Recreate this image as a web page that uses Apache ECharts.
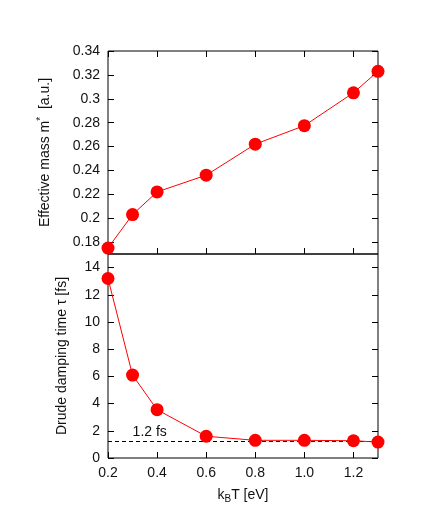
<!DOCTYPE html>
<html>
<head>
<meta charset="utf-8">
<script src="https://cdn.jsdelivr.net/npm/echarts@6/dist/echarts.min.js"></script>
<style>
  html, body { margin: 0; padding: 0; background: #fff; }
  #chart { width: 436px; height: 509px; }
</style>
</head>
<body>
<div id="chart"></div>
<script>
// k_B T values (eV)
const temps = [0.2, 0.3, 0.4, 0.6, 0.8, 1.0, 1.2, 1.3]
// Effective mass m* (a.u.)
const mass = [0.175, 0.203, 0.222, 0.236, 0.262, 0.2775, 0.305, 0.323]
// Drude damping time tau (fs)
const tau = [13.2, 6.1, 3.55, 1.6, 1.3, 1.3, 1.27, 1.17]

// tick positions
const xTicks = [0.2, 0.4, 0.6, 0.8, 1.0, 1.2]
const massTicks = [0.18, 0.2, 0.22, 0.24, 0.26, 0.28, 0.3, 0.32, 0.34]
const tauTicks = [0, 2, 4, 6, 8, 10, 12, 14]

// reference line
const tauRef = 1.2
const tauRefLabel = '1.2 fs'
const tauRefLabelX = 0.37

const FONT = 'Liberation Sans, Arial, sans-serif'
const RED = '#ff0000'

const chart = echarts.init(document.getElementById('chart'))

const tickStyle = (values, show = true) => ({
  show,
  inside: true,
  length: 6,
  customValues: values,
  lineStyle: { color: '#000', width: 1 }
})

const noLabel = { show: false }

const baseX = {
  type: 'value',
  min: 0.2,
  max: 1.3,
  axisLine: { show: false },
  splitLine: { show: false }
}

chart.setOption({
  animation: false,
  textStyle: { fontFamily: FONT },
  grid: [
    { left: 108, right: 58, top: 51, height: 203, show: true, borderColor: '#000', borderWidth: 1 },
    { left: 108, right: 58, top: 254, height: 204, show: true, borderColor: '#000', borderWidth: 1 }
  ],
  xAxis: [
    { ...baseX, gridIndex: 0, position: 'bottom', axisTick: tickStyle(xTicks), axisLabel: noLabel },
    { ...baseX, gridIndex: 0, position: 'top', axisTick: tickStyle(xTicks), axisLabel: noLabel },
    {
      ...baseX,
      gridIndex: 1,
      position: 'bottom',
      axisTick: tickStyle(xTicks),
      axisLabel: {
        customValues: xTicks,
        formatter: v => v.toFixed(1),
        color: '#111',
        fontSize: 14,
        margin: 8,
        fontFamily: FONT
      },
      name: 'k{sub|B}T [eV]',
      nameLocation: 'middle',
      nameGap: 28,
      nameTextStyle: {
        color: '#111',
        fontSize: 14,
        fontFamily: FONT,
        rich: { sub: { fontSize: 10, verticalAlign: 'bottom', padding: [8, 0, 0, 0], color: '#111', fontFamily: FONT } }
      }
    },
    { ...baseX, gridIndex: 1, position: 'top', axisTick: { show: false }, axisLabel: noLabel }
  ],
  yAxis: [
    {
      type: 'value',
      gridIndex: 0,
      position: 'left',
      min: 0.17,
      max: 0.34,
      axisLine: { show: false },
      splitLine: { show: false },
      axisTick: tickStyle(massTicks),
      axisLabel: { customValues: massTicks, color: '#111', fontSize: 14, margin: 8, fontFamily: FONT },
      name: 'Effective mass m{sup|*}  [a.u.]',
      nameLocation: 'middle',
      nameRotate: 90,
      nameGap: 54,
      nameTextStyle: {
        color: '#111',
        fontSize: 14,
        fontFamily: FONT,
        rich: { sup: { fontSize: 10, verticalAlign: 'top', padding: [0, 0, 8, 0], color: '#111', fontFamily: FONT } }
      }
    },
    {
      type: 'value',
      gridIndex: 0,
      position: 'right',
      min: 0.17,
      max: 0.34,
      axisLine: { show: false },
      splitLine: { show: false },
      axisTick: tickStyle(massTicks),
      axisLabel: noLabel
    },
    {
      type: 'value',
      gridIndex: 1,
      position: 'left',
      min: 0,
      max: 15,
      axisLine: { show: false },
      splitLine: { show: false },
      axisTick: tickStyle(tauTicks),
      axisLabel: { customValues: tauTicks, color: '#111', fontSize: 14, margin: 8, fontFamily: FONT },
      name: 'Drude damping time τ [fs]',
      nameLocation: 'middle',
      nameRotate: 90,
      nameGap: 39,
      nameTextStyle: { color: '#111', fontSize: 14, fontFamily: FONT }
    },
    {
      type: 'value',
      gridIndex: 1,
      position: 'right',
      min: 0,
      max: 15,
      axisLine: { show: false },
      splitLine: { show: false },
      axisTick: tickStyle(tauTicks),
      axisLabel: noLabel
    }
  ],
  series: [
    {
      name: 'mass',
      type: 'line',
      xAxisIndex: 0,
      yAxisIndex: 0,
      data: temps.map((t, i) => [t, mass[i]]),
      clip: false,
      symbol: 'circle',
      symbolSize: 13,
      lineStyle: { color: RED, width: 1 },
      itemStyle: { color: RED },
      z: 5
    },
    {
      name: 'tau',
      type: 'line',
      xAxisIndex: 2,
      yAxisIndex: 2,
      data: temps.map((t, i) => [t, tau[i]]),
      clip: false,
      symbol: 'circle',
      symbolSize: 13,
      lineStyle: { color: RED, width: 1 },
      itemStyle: { color: RED },
      z: 5,
      markLine: {
        silent: true,
        symbol: 'none',
        label: { show: false },
        lineStyle: { color: '#000', type: [4, 3], width: 1 },
        data: [{ yAxis: tauRef }],
        z: 1
      },
      markPoint: {
        silent: true,
        symbol: 'circle',
        symbolSize: 0,
        data: [{ coord: [tauRefLabelX, tauRef] }],
        label: {
          show: true,
          position: 'top',
          distance: 3,
          formatter: tauRefLabel,
          color: '#111',
          fontSize: 14,
          fontFamily: FONT
        }
      }
    }
  ]
})
</script>
</body>
</html>
